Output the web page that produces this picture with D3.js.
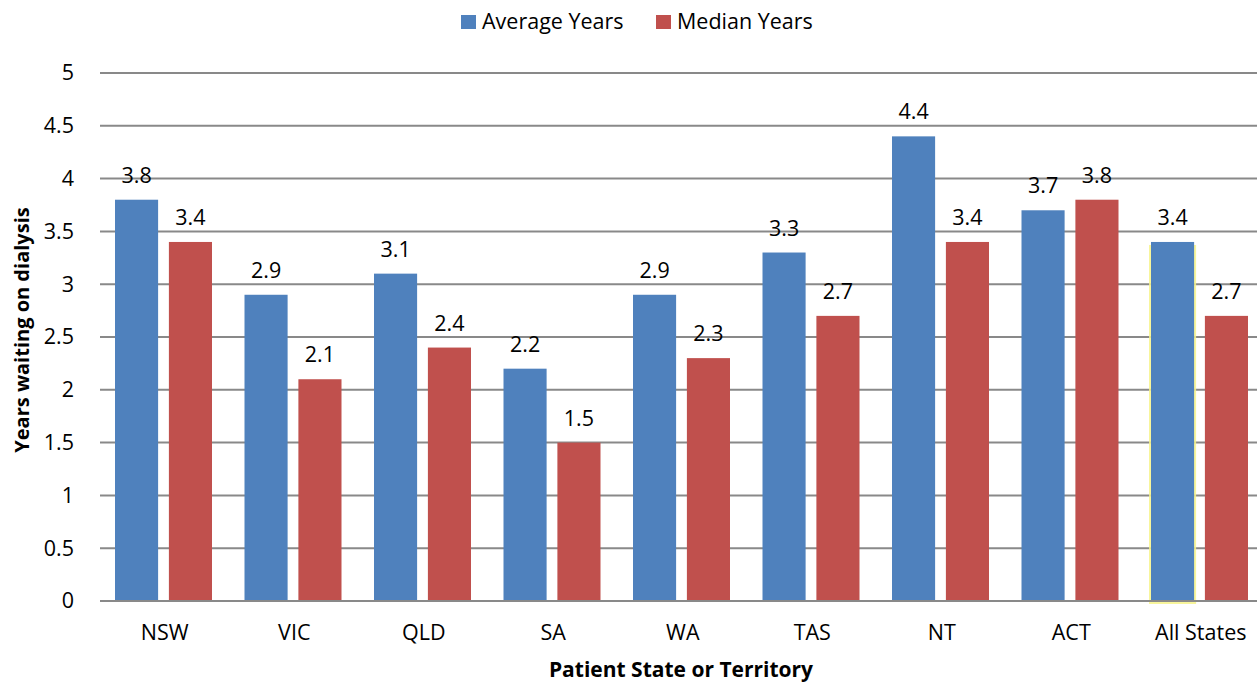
<!DOCTYPE html>
<html>
<head>
<meta charset="utf-8">
<script src="https://cdn.jsdelivr.net/npm/d3@7"></script>
<style>
  body { margin: 0; background: #fff; }
  svg { display: block; font-family: "Open Sans", Lato, sans-serif; }
</style>
</head>
<body>
<svg id="chart"></svg>
<script>
// Chart data
const states = ["NSW", "VIC", "QLD", "SA", "WA", "TAS", "NT", "ACT", "All States"];
const averageYears = [3.8, 2.9, 3.1, 2.2, 2.9, 3.3, 4.4, 3.7, 3.4];
const medianYears = [3.4, 2.1, 2.4, 1.5, 2.3, 2.7, 3.4, 3.8, 2.7];
const seriesNames = ["Average Years", "Median Years"];
const seriesColors = ["#4f81bd", "#c0504d"];
const yTicks = [0, 0.5, 1, 1.5, 2, 2.5, 3, 3.5, 4, 4.5, 5];

const width = 1257;
const height = 683;
const margin = { top: 73, bottom: 82, left: 100 };
const fontFamily = "'Open Sans', Lato, sans-serif";
const fontSize = 21.5;

const svg = d3.select("#chart").attr("width", width).attr("height", height);

// Scales (plot area runs a little past the right edge of the picture)
const x0 = d3.scaleBand()
  .domain(states)
  .range([margin.left, margin.left + 9 * 129.5])
  .padding(0);

const x1 = d3.scaleBand()
  .domain(seriesNames)
  .range([15, 112])
  .paddingInner(0.2)
  .paddingOuter(0);

const y = d3.scaleLinear()
  .domain([0, 5])
  .range([height - margin.bottom, margin.top]);

// Gridlines
svg.append("g")
  .selectAll("line")
  .data(yTicks)
  .enter()
  .append("line")
  .attr("x1", margin.left)
  .attr("x2", width)
  .attr("y1", (d) => y(d))
  .attr("y2", (d) => y(d))
  .attr("stroke", "#898989")
  .attr("stroke-width", 2);

// Y axis labels (no axis line, no ticks)
const yAxis = svg.append("g")
  .attr("transform", `translate(${margin.left - 26}, 0)`)
  .call(d3.axisLeft(y).tickValues(yTicks).tickSize(0).tickPadding(0).tickFormat(d3.format("")));
yAxis.select(".domain").remove();
yAxis.selectAll("text")
  .attr("font-size", fontSize)
  .attr("font-family", fontFamily)
  .attr("fill", "#000");

// Bar data
const rows = states.map((s, i) => ({
  state: s,
  values: [
    { name: seriesNames[0], value: averageYears[i], color: seriesColors[0] },
    { name: seriesNames[1], value: medianYears[i], color: seriesColors[1] },
  ],
}));

const groups = svg.append("g")
  .selectAll("g")
  .data(rows)
  .enter()
  .append("g")
  .attr("transform", (d) => `translate(${x0(d.state)}, 0)`);

// Yellow selection glow on the "All States" average bar
groups.filter((d) => d.state === "All States")
  .append("rect")
  .attr("x", x1(seriesNames[0]) - 2)
  .attr("y", y(averageYears[states.length - 1]) + 3)
  .attr("width", x1.bandwidth() + 4)
  .attr("height", y(0) - y(averageYears[states.length - 1]))
  .attr("fill", "#f7f38a")
  .attr("opacity", 0.85);

groups.selectAll(".bar")
  .data((d) => d.values)
  .enter()
  .append("rect")
  .attr("class", "bar")
  .attr("x", (d) => x1(d.name))
  .attr("y", (d) => y(d.value))
  .attr("width", x1.bandwidth())
  .attr("height", (d) => y(0) - y(d.value))
  .attr("fill", (d) => d.color);

// Value labels
groups.selectAll(".label")
  .data((d) => d.values)
  .enter()
  .append("text")
  .attr("class", "label")
  .attr("x", (d) => x1(d.name) + x1.bandwidth() / 2)
  .attr("y", (d) => y(d.value) - 17)
  .attr("text-anchor", "middle")
  .attr("font-size", fontSize)
  .attr("fill", "#000")
  .text((d) => d.value.toFixed(1));

// Baseline
svg.append("line")
  .attr("x1", margin.left)
  .attr("x2", width)
  .attr("y1", y(0))
  .attr("y2", y(0))
  .attr("stroke", "#898989")
  .attr("stroke-width", 2);

// X axis labels
const xAxis = svg.append("g")
  .attr("transform", `translate(0, ${y(0)})`)
  .call(d3.axisBottom(x0).tickSize(0).tickPadding(24));
xAxis.select(".domain").remove();
xAxis.selectAll("text")
  .attr("font-size", fontSize)
  .attr("font-family", fontFamily)
  .attr("fill", "#000");

// Axis titles
svg.append("text")
  .attr("x", 681)
  .attr("y", 677)
  .attr("text-anchor", "middle")
  .attr("font-size", 21)
  .attr("font-weight", "bold")
  .text("Patient State or Territory");

svg.append("text")
  .attr("transform", `translate(29, 330) rotate(-90)`)
  .attr("text-anchor", "middle")
  .attr("font-size", 20)
  .attr("font-weight", "bold")
  .text("Years waiting on dialysis");

// Legend
const legend = svg.append("g").attr("transform", "translate(461, 0)");
const legendX = [0, 195];
seriesNames.forEach((name, i) => {
  const g = legend.append("g").attr("transform", `translate(${legendX[i]}, 0)`);
  g.append("rect")
    .attr("x", 0)
    .attr("y", 15)
    .attr("width", 15)
    .attr("height", 14)
    .attr("fill", seriesColors[i]);
  g.append("text")
    .attr("x", 21)
    .attr("y", 29)
    .attr("font-size", fontSize)
    .attr("fill", "#000")
    .text(name);
});
</script>
</body>
</html>
